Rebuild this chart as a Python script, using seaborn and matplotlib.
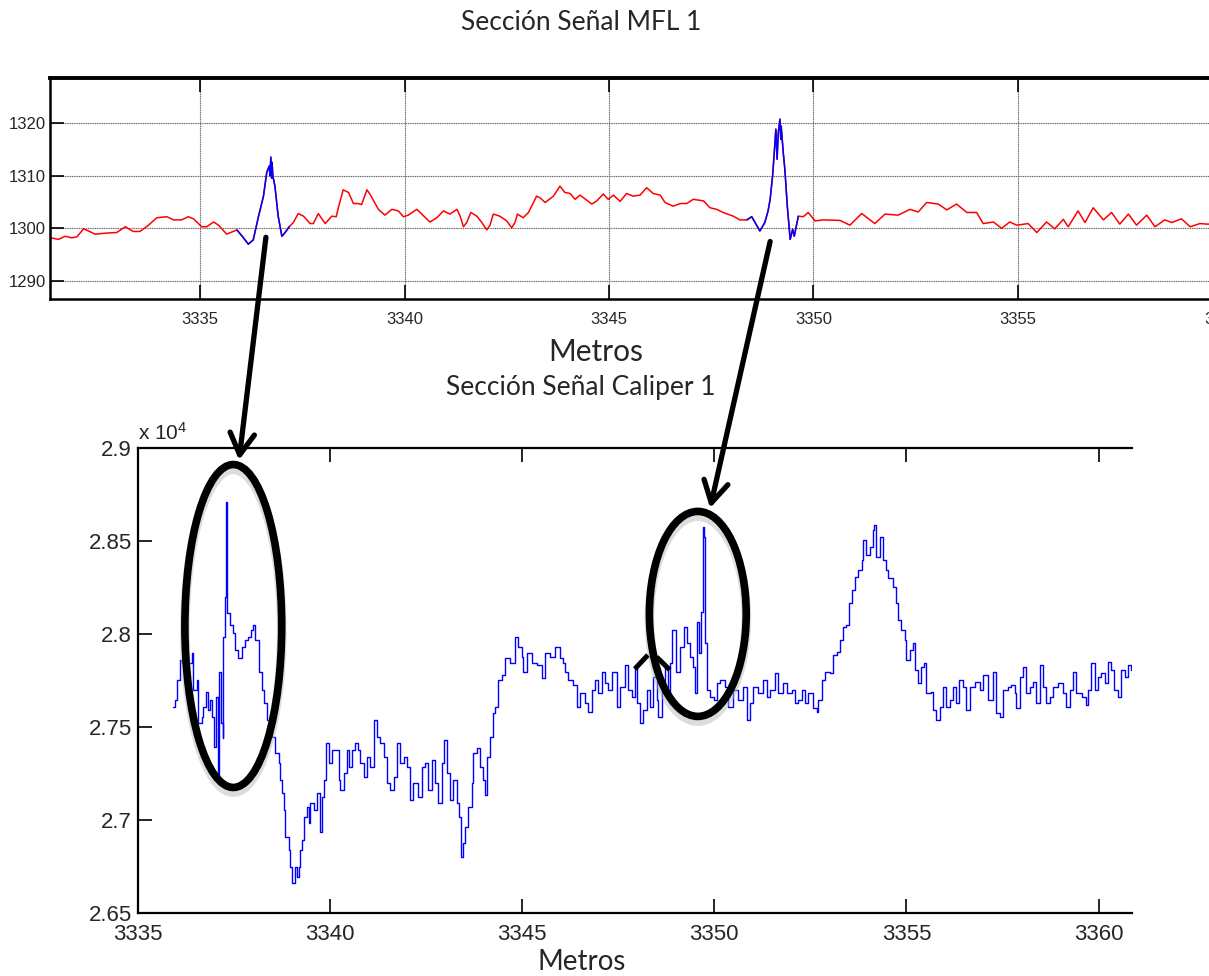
import matplotlib
matplotlib.use("Agg")
import numpy as np
import pandas as pd
import matplotlib.pyplot as plt
import seaborn as sns
from matplotlib.patches import Ellipse, ConnectionPatch
from matplotlib.lines import Line2D
from matplotlib.ticker import FuncFormatter, FixedLocator

sns.set_theme(style="white")
plt.rcParams["font.family"] = ["Liberation Sans", "DejaVu Sans"]
plt.rcParams["mathtext.fontset"] = "custom"
plt.rcParams["mathtext.rm"] = "Liberation Sans"
plt.rcParams["mathtext.it"] = "Liberation Sans"

# ---------------- MFL signal (section 1) ----------------
mfl_m = [
    3331.35, 3331.54, 3331.70, 3331.86, 3331.99, 3332.15, 3332.27, 3332.43, 3332.72, 3332.96,
    3333.17, 3333.37, 3333.53, 3333.74, 3333.94, 3334.19, 3334.35, 3334.55, 3334.71, 3334.84,
    3335.04, 3335.16, 3335.33, 3335.45, 3335.65, 3335.90, 3336.02, 3336.18, 3336.30, 3336.43,
    3336.55, 3336.63, 3336.69, 3336.71, 3336.73, 3336.75, 3336.76, 3336.78, 3336.83, 3336.91,
    3337.00, 3337.08, 3337.18, 3337.28, 3337.40, 3337.53, 3337.69, 3337.77, 3337.89, 3338.06,
    3338.22, 3338.33, 3338.38, 3338.50, 3338.63, 3338.75, 3338.87, 3338.95, 3339.08, 3339.16,
    3339.36, 3339.52, 3339.69, 3339.85, 3339.97, 3340.09, 3340.30, 3340.42, 3340.62, 3340.79,
    3340.95, 3341.11, 3341.28, 3341.36, 3341.44, 3341.52, 3341.62, 3341.77, 3341.89, 3342.01,
    3342.09, 3342.17, 3342.33, 3342.50, 3342.62, 3342.70, 3342.76, 3342.90, 3343.03, 3343.23,
    3343.31, 3343.44, 3343.64, 3343.80, 3343.92, 3344.05, 3344.17, 3344.29, 3344.41, 3344.58,
    3344.70, 3344.86, 3344.98, 3345.11, 3345.27, 3345.43, 3345.59, 3345.76, 3345.92, 3346.08,
    3346.25, 3346.37, 3346.57, 3346.74, 3346.90, 3347.06, 3347.31, 3347.47, 3347.63, 3347.79,
    3348.04, 3348.20, 3348.37, 3348.49, 3348.69, 3348.81, 3348.89, 3348.94, 3349.00, 3349.03,
    3349.08, 3349.11, 3349.14, 3349.18, 3349.20, 3349.21, 3349.26, 3349.30, 3349.36, 3349.43,
    3349.49, 3349.53, 3349.63, 3349.75, 3349.87, 3350.04, 3350.24, 3350.65, 3350.89, 3351.18,
    3351.50, 3351.75, 3352.07, 3352.36, 3352.56, 3352.77, 3353.05, 3353.26, 3353.50, 3353.75,
    3353.99, 3354.15, 3354.40, 3354.60, 3354.80, 3354.97, 3355.25, 3355.46, 3355.70, 3355.90,
    3356.11, 3356.23, 3356.47, 3356.64, 3356.84, 3357.09, 3357.29, 3357.49, 3357.70, 3357.90,
    3358.15, 3358.35, 3358.59, 3358.76, 3359.00, 3359.21, 3359.45, 3359.62, 3360.00,
]
mfl_val = [
    1298.2, 1297.9, 1298.5, 1298.2, 1298.4, 1299.9, 1299.5, 1298.9, 1299.1, 1299.2,
    1300.3, 1299.4, 1299.4, 1300.6, 1302.0, 1302.2, 1301.6, 1301.6, 1302.2, 1301.8,
    1300.3, 1300.3, 1301.2, 1300.6, 1298.9, 1299.7, 1298.6, 1297.0, 1297.8, 1302.3,
    1306.1, 1310.6, 1311.8, 1310.0, 1313.5, 1309.5, 1312.5, 1309.9, 1308.0, 1302.3,
    1298.5, 1299.2, 1300.3, 1301.1, 1302.8, 1302.3, 1300.9, 1300.9, 1302.8, 1300.9,
    1302.3, 1302.2, 1303.9, 1307.3, 1306.8, 1304.7, 1304.7, 1304.5, 1307.3, 1306.4,
    1303.6, 1302.5, 1303.6, 1303.3, 1302.2, 1302.5, 1303.6, 1302.7, 1301.2, 1302.0,
    1303.3, 1302.7, 1303.6, 1302.3, 1300.3, 1301.1, 1303.0, 1302.3, 1301.1, 1299.7,
    1300.6, 1302.7, 1302.3, 1301.4, 1300.1, 1301.1, 1302.7, 1302.0, 1303.0, 1306.1,
    1305.8, 1304.9, 1306.1, 1308.0, 1306.8, 1306.6, 1305.5, 1306.3, 1305.6, 1304.6,
    1305.2, 1306.5, 1305.5, 1306.3, 1305.1, 1306.6, 1306.1, 1306.3, 1307.7, 1306.6,
    1306.3, 1304.9, 1304.2, 1304.7, 1304.7, 1305.5, 1305.2, 1303.9, 1303.6, 1303.0,
    1302.3, 1301.6, 1301.6, 1302.2, 1299.5, 1301.1, 1303.3, 1305.5, 1309.9, 1313.1,
    1318.8, 1313.1, 1318.2, 1320.7, 1316.9, 1319.4, 1314.4, 1311.2, 1304.2, 1297.9,
    1299.8, 1298.5, 1302.3, 1302.2, 1303.0, 1301.4, 1301.6, 1301.5, 1300.6, 1302.8,
    1300.9, 1302.7, 1302.5, 1303.6, 1303.1, 1304.9, 1304.6, 1303.5, 1304.6, 1303.0,
    1303.0, 1300.9, 1301.2, 1300.0, 1301.2, 1300.6, 1300.9, 1299.2, 1301.2, 1299.9,
    1301.7, 1300.3, 1303.3, 1301.1, 1303.9, 1301.6, 1303.0, 1300.8, 1302.7, 1300.6,
    1302.5, 1300.3, 1301.6, 1301.1, 1301.8, 1300.3, 1300.9, 1300.8, 1300.8,
]
# stretches of the MFL record flagged as anomalies (drawn in blue)
anomaly_start = [3335.90, 3348.37]
anomaly_end = [3337.18, 3349.63]

# ---------------- Caliper signal (section 1) ----------------
cal_m = [
    3335.92, 3335.97, 3336.01, 3336.10, 3336.14, 3336.40, 3336.44, 3336.53, 3336.57, 3336.66,
    3336.70, 3336.77, 3336.83, 3336.88, 3336.92, 3336.99, 3337.03, 3337.08, 3337.09, 3337.11,
    3337.16, 3337.20, 3337.22, 3337.27, 3337.29, 3337.31, 3337.32, 3337.40, 3337.48, 3337.53,
    3337.61, 3337.70, 3337.79, 3337.87, 3337.94, 3338.00, 3338.05, 3338.14, 3338.22, 3338.27,
    3338.35, 3338.48, 3338.57, 3338.66, 3338.70, 3338.74, 3338.79, 3338.83, 3338.92, 3338.96,
    3339.02, 3339.09, 3339.13, 3339.18, 3339.22, 3339.26, 3339.31, 3339.39, 3339.44, 3339.48,
    3339.57, 3339.65, 3339.74, 3339.78, 3339.85, 3339.90, 3339.96, 3340.04, 3340.13, 3340.22,
    3340.26, 3340.35, 3340.43, 3340.48, 3340.56, 3340.65, 3340.72, 3340.78, 3340.87, 3340.95,
    3341.04, 3341.13, 3341.21, 3341.30, 3341.39, 3341.47, 3341.56, 3341.65, 3341.73, 3341.82,
    3341.91, 3342.00, 3342.08, 3342.17, 3342.30, 3342.39, 3342.47, 3342.56, 3342.65, 3342.73,
    3342.82, 3342.91, 3342.97, 3343.04, 3343.12, 3343.21, 3343.30, 3343.35, 3343.41, 3343.47,
    3343.51, 3343.60, 3343.69, 3343.73, 3343.81, 3343.90, 3343.99, 3344.04, 3344.08, 3344.16,
    3344.25, 3344.29, 3344.38, 3344.47, 3344.55, 3344.68, 3344.81, 3344.90, 3344.99, 3345.03,
    3345.12, 3345.25, 3345.38, 3345.51, 3345.59, 3345.72, 3345.85, 3345.98, 3346.07, 3346.11,
    3346.20, 3346.33, 3346.42, 3346.50, 3346.63, 3346.72, 3346.81, 3346.89, 3346.98, 3347.07,
    3347.16, 3347.24, 3347.33, 3347.46, 3347.55, 3347.67, 3347.76, 3347.85, 3347.93, 3347.98,
    3348.06, 3348.15, 3348.24, 3348.32, 3348.41, 3348.50, 3348.54, 3348.63, 3348.71, 3348.80,
    3348.84, 3348.91, 3349.01, 3349.10, 3349.21, 3349.28, 3349.37, 3349.45, 3349.50, 3349.54,
    3349.60, 3349.64, 3349.70, 3349.74, 3349.76, 3349.80, 3349.88, 3349.98, 3350.06, 3350.15,
    3350.27, 3350.36, 3350.49, 3350.62, 3350.75, 3350.84, 3350.92, 3351.01, 3351.14, 3351.27,
    3351.36, 3351.44, 3351.58, 3351.66, 3351.79, 3351.88, 3352.01, 3352.10, 3352.18, 3352.27,
    3352.36, 3352.44, 3352.58, 3352.66, 3352.70, 3352.79, 3352.88, 3353.01, 3353.09, 3353.18,
    3353.27, 3353.35, 3353.42, 3353.51, 3353.57, 3353.66, 3353.74, 3353.83, 3353.88, 3353.96,
    3354.05, 3354.12, 3354.15, 3354.22, 3354.31, 3354.39, 3354.48, 3354.52, 3354.65, 3354.74,
    3354.78, 3354.87, 3354.96, 3355.00, 3355.09, 3355.17, 3355.22, 3355.30, 3355.39, 3355.45,
    3355.52, 3355.65, 3355.69, 3355.78, 3355.86, 3355.95, 3356.04, 3356.13, 3356.21, 3356.30,
    3356.38, 3356.47, 3356.56, 3356.65, 3356.78, 3356.91, 3356.99, 3357.13, 3357.24, 3357.34,
    3357.43, 3357.52, 3357.64, 3357.73, 3357.82, 3357.86, 3357.95, 3358.04, 3358.12, 3358.21,
    3358.30, 3358.38, 3358.47, 3358.56, 3358.64, 3358.73, 3358.81, 3358.94, 3359.07, 3359.16,
    3359.25, 3359.33, 3359.42, 3359.56, 3359.67, 3359.73, 3359.81, 3359.90, 3359.99, 3360.07,
    3360.16, 3360.24, 3360.33, 3360.41, 3360.50, 3360.59, 3360.68, 3360.76, 3360.85,
]
cal_val = [
    27609, 27645, 27753, 27860, 27843, 27896, 27699, 27753, 27520, 27556,
    27609, 27690, 27592, 27645, 27556, 27394, 27663, 27376, 27233, 27797,
    27520, 27439, 27986, 28201, 28711, 28416, 28111, 28048, 28004, 27914,
    27869, 27932, 27968, 27986, 28022, 28048, 27968, 27797, 27699, 27627,
    27538, 27448, 27359, 27305, 27215, 27144, 27054, 26910, 26839, 26749,
    26660, 26749, 26695, 26749, 26839, 26893, 27018, 27072, 26982, 27090,
    27054, 27144, 26937, 27126, 27215, 27412, 27305, 27376, 27376, 27215,
    27161, 27251, 27376, 27287, 27376, 27412, 27376, 27305, 27233, 27340,
    27287, 27538, 27448, 27412, 27340, 27197, 27161, 27233, 27412, 27305,
    27340, 27287, 27108, 27197, 27126, 27287, 27305, 27161, 27323, 27197,
    27090, 27305, 27430, 27251, 27108, 27215, 27090, 27018, 26803, 26875,
    26964, 27072, 27197, 27359, 27385, 27287, 27215, 27134, 27340, 27448,
    27574, 27609, 27753, 27780, 27869, 27843, 27986, 27932, 27878, 27797,
    27896, 27843, 27833, 27762, 27896, 27878, 27932, 27869, 27843, 27797,
    27753, 27726, 27609, 27681, 27627, 27582, 27699, 27753, 27681, 27797,
    27735, 27699, 27797, 27609, 27717, 27833, 27699, 27663, 27815, 27627,
    27520, 27592, 27699, 27609, 27771, 27645, 27556, 27717, 27824, 27681,
    27843, 28022, 27797, 27932, 28039, 27950, 27878, 27824, 27681, 28066,
    27896, 28120, 28577, 28523, 27950, 27699, 27663, 27645, 27735, 27753,
    27717, 27609, 27699, 27645, 27717, 27538, 27627, 27717, 27681, 27753,
    27663, 27699, 27789, 27681, 27735, 27681, 27699, 27627, 27645, 27699,
    27627, 27681, 27601, 27582, 27645, 27753, 27797, 27789, 27887, 27905,
    27968, 28039, 28048, 28165, 28237, 28308, 28344, 28398, 28505, 28425,
    28469, 28559, 28586, 28416, 28523, 28398, 28344, 28300, 28254, 28165,
    28075, 28022, 27968, 27860, 27914, 27950, 27807, 27735, 27824, 27843,
    27681, 27690, 27592, 27538, 27609, 27717, 27609, 27645, 27717, 27627,
    27753, 27717, 27592, 27717, 27744, 27699, 27780, 27645, 27797, 27574,
    27556, 27699, 27717, 27726, 27681, 27601, 27771, 27824, 27681, 27717,
    27744, 27627, 27833, 27717, 27627, 27663, 27717, 27735, 27681, 27609,
    27699, 27797, 27681, 27663, 27618, 27699, 27843, 27699, 27771, 27789,
    27735, 27851, 27807, 27699, 27663, 27807, 27771, 27833, 27807,
]

top_xticks = [3335, 3340, 3345, 3350, 3355, 3360]
top_yticks = [1290, 1300, 1310, 1320]
bot_xticks = [3335, 3340, 3345, 3350, 3355, 3360]
bot_yticks = [26500, 27000, 27500, 28000, 28500, 29000]

title_top = "Sección Señal MFL 1"
title_bot = "Sección Señal Caliper 1"
xlabel = "Metros"

mfl = pd.DataFrame({"m": mfl_m, "v": mfl_val})
cal = pd.DataFrame({"m": cal_m, "v": cal_val})

W, H = 1209, 976
fig = plt.figure(figsize=(W / 100, H / 100), dpi=100)
fig.patch.set_facecolor("white")

def px_box(left, top, right, bottom):
    return [left / W, 1 - bottom / H, (right - left) / W, (bottom - top) / H]

label_font = ["Lato", "DejaVu Sans"]

# ---------------- top panel ----------------
ax1 = fig.add_axes(px_box(50, 78, 1240, 299))
sns.lineplot(data=mfl, x="m", y="v", ax=ax1, color="#ff0000", lw=1.1,
             estimator=None, sort=False)
for a, b in zip(anomaly_start, anomaly_end):
    seg = mfl[(mfl["m"] >= a) & (mfl["m"] <= b)]
    sns.lineplot(data=seg, x="m", y="v", ax=ax1, color="#0000ff", lw=1.1,
                 estimator=None, sort=False)
ax1.set_xlim(3331.33, 3360.43)
ax1.set_ylim(1286.6, 1328.5)
ax1.xaxis.set_major_locator(FixedLocator(top_xticks))
ax1.yaxis.set_major_locator(FixedLocator(top_yticks))
ax1.grid(True, color="#666666", lw=0.8, ls=(0, (1, 0.6)))
ax1.tick_params(axis="both", direction="in", length=10, width=1.2, color="black",
                labelsize=12, top=True, bottom=True, left=True, right=False)
ax1.tick_params(axis="x", pad=9)
ax1.tick_params(axis="y", pad=3)
ax1.set_xlabel("")
ax1.set_ylabel("")
for s in ["left", "bottom"]:
    ax1.spines[s].set_linewidth(1.8)
    ax1.spines[s].set_color("black")
ax1.spines["top"].set_linewidth(2.8)
ax1.spines["top"].set_color("black")
ax1.spines["right"].set_visible(False)

# ---------------- bottom panel ----------------
ax2 = fig.add_axes(px_box(138, 448, 1132, 913))
sns.lineplot(data=cal, x="m", y="v", ax=ax2, color="#0000ff", lw=1.0,
             estimator=None, sort=False, drawstyle="steps-post")
ax2.set_xlim(3335, 3360.87)
ax2.set_ylim(26500, 29000)
ax2.xaxis.set_major_locator(FixedLocator(bot_xticks))
ax2.yaxis.set_major_locator(FixedLocator(bot_yticks))
ax2.yaxis.set_major_formatter(FuncFormatter(lambda v, p: f"{v / 1e4:g}"))
ax2.grid(False)
ax2.tick_params(axis="both", direction="in", length=10, width=1.2, color="black",
                labelsize=16, top=True, bottom=True, left=True, right=False)
ax2.tick_params(axis="x", pad=8)
ax2.tick_params(axis="y", pad=4.5)
ax2.set_xlabel("")
ax2.set_ylabel("")
for s in ["left", "bottom", "top"]:
    ax2.spines[s].set_linewidth(1.6)
    ax2.spines[s].set_color("black")
ax2.spines["right"].set_visible(False)

fig.text(138 / W, 1 - 440 / H, r"x 10$^{4}$", fontsize=15, ha="left", va="baseline")

# ---------------- titles and axis labels ----------------
fig.text(581 / W, 1 - 23 / H, title_top, family=label_font, fontsize=19,
         ha="center", va="center")
fig.text(596 / W, 1 - 352 / H, xlabel, family=label_font, fontsize=21.5,
         ha="center", va="center")
fig.text(581 / W, 1 - 388 / H, title_bot, family=label_font, fontsize=19,
         ha="center", va="center")
fig.text(582 / W, 1 - 962 / H, xlabel, family=label_font, fontsize=20,
         ha="center", va="center")

# ---------------- highlight ellipses ----------------
for cx, cy, w, h in [(3337.48, 28043, 2.52, 1736), (3349.57, 28108, 2.52, 1102)]:
    ax2.add_patch(Ellipse((cx, cy - 25), w, h, fill=False, ec="#bbbbbb", lw=7,
                          alpha=0.5, clip_on=False, zorder=4))
    ax2.add_patch(Ellipse((cx, cy), w, h, fill=False, ec="black", lw=5.5,
                          clip_on=False, zorder=5))

# ---------------- arrows linking MFL anomalies to caliper ----------------
for tail, head in [((3336.61, 1298.3), (3337.63, 28935)),
                   ((3348.94, 1297.5), (3349.89, 28677))]:
    cp = ConnectionPatch(xyA=tail, coordsA=ax1.transData, xyB=head, coordsB=ax2.transData,
                         arrowstyle="->,head_length=0.7,head_width=0.4",
                         mutation_scale=22, lw=3.8, color="black", zorder=6)
    fig.add_artist(cp)

# small stray arrowhead mark beside the second ellipse
for (x0, y0), (x1, y1) in [((3347.93, 27812), (3348.27, 27887)),
                           ((3348.50, 27876), (3348.84, 27807))]:
    ax2.add_line(Line2D([x0, x1], [y0, y1], color="black", lw=3.6,
                        solid_capstyle="butt", clip_on=False, zorder=5))

fig.savefig("out.png", dpi=100, facecolor="white")
